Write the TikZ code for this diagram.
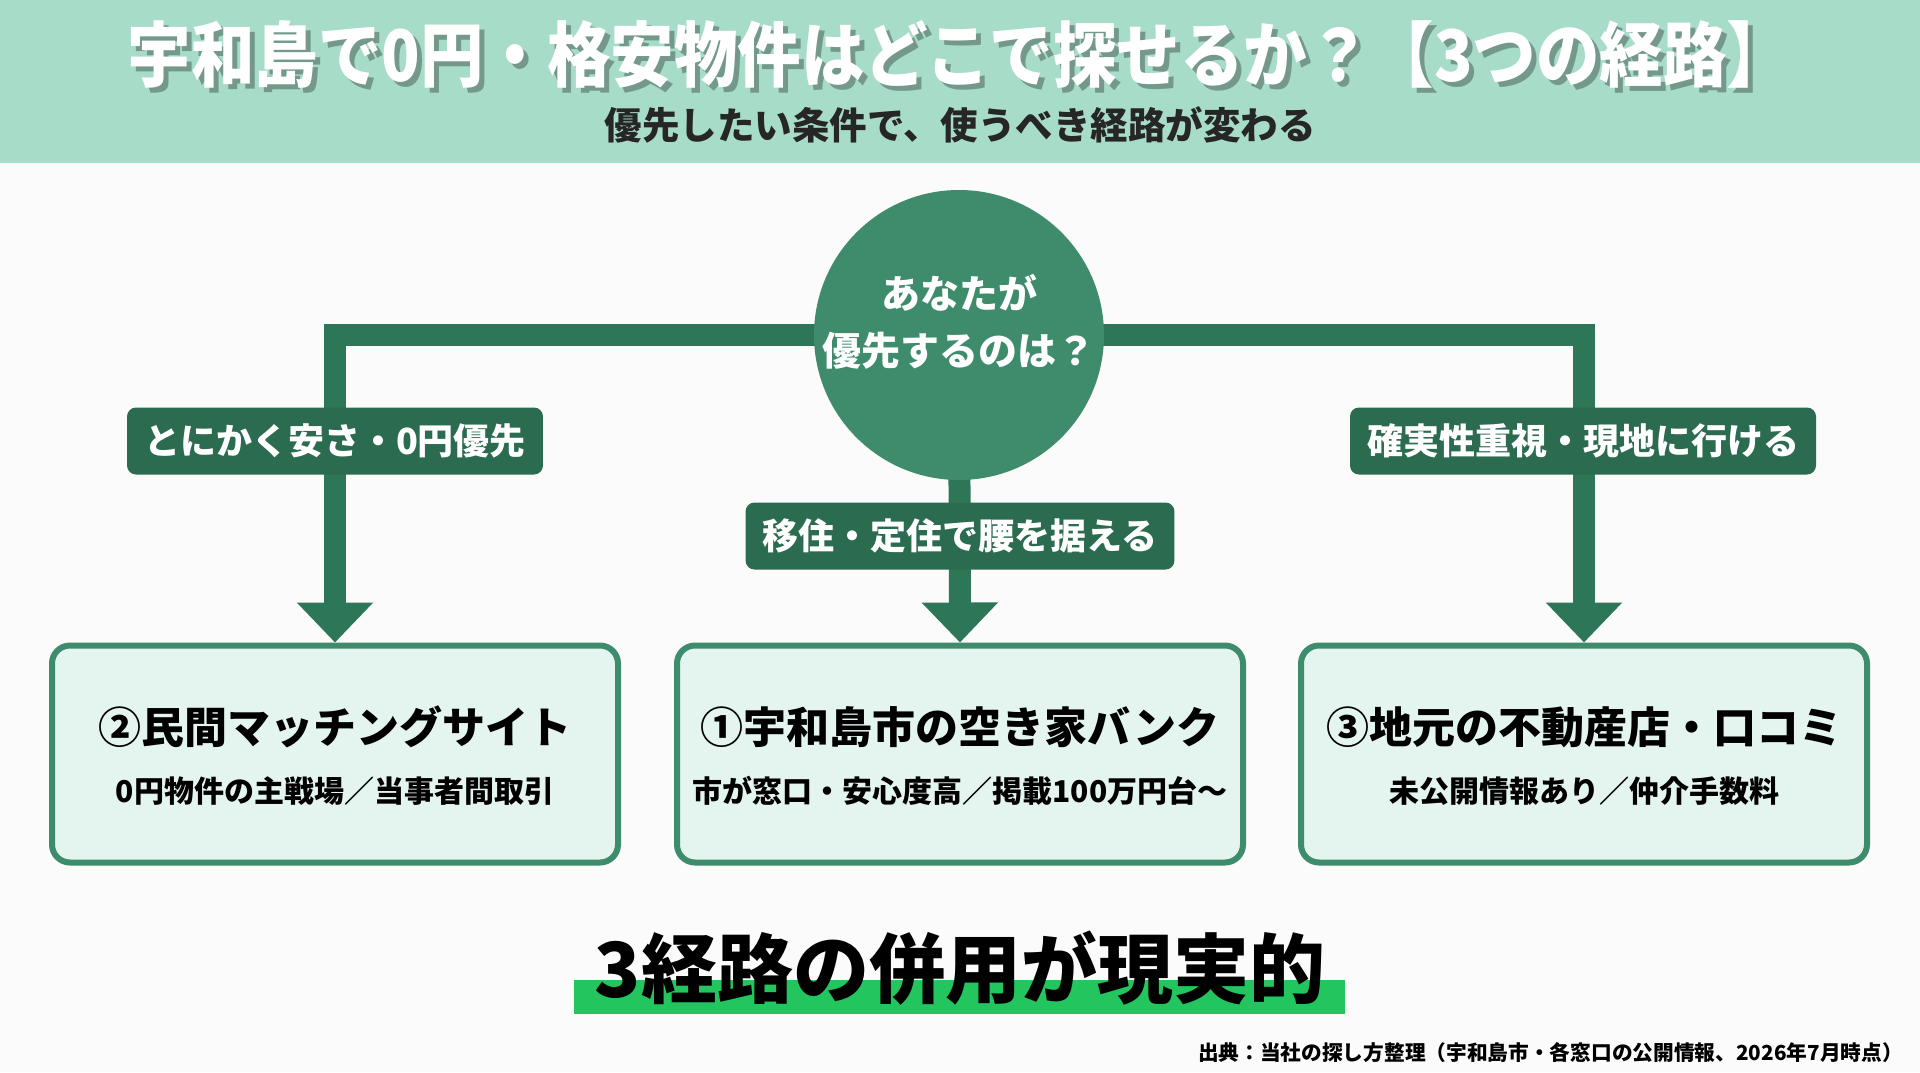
\documentclass[tikz,border=0pt]{standalone}
\usepackage{fontspec}
\usepackage{graphicx}
\setmainfont{Noto Sans CJK JP}
\usetikzlibrary{calc, positioning, arrows.meta}
\definecolor{headerbg}{HTML}{A7DCC8}
\definecolor{pagebg}{HTML}{FAFBFA}
\definecolor{askgreen}{HTML}{3F8C6C}
\definecolor{routeline}{HTML}{2D7657}
\definecolor{labelgreen}{HTML}{2B6B4F}
\definecolor{boxline}{HTML}{3E8C6B}
\definecolor{boxfill}{HTML}{E3F5EE}
\definecolor{hilite}{HTML}{22C55E}
\newcommand{\fsz}[1]{\fontsize{#1}{#1}\selectfont}
\newcommand{\titletext}{\scalebox{1}[1.12]{宇和島で0円・格安物件はどこで探せるか？【3つの経路】}}

\begin{document}
\begin{tikzpicture}[x=1pt,y=-1pt]
  \tikzset{route/.style={draw=routeline,line width=22pt,line join=miter,-{Triangle[width=74pt,length=40pt]}}}
  \tikzset{choice/.style={fill=labelgreen,rounded corners=9pt,text=white,font=\bfseries\fsz{36},minimum height=67pt,inner xsep=17pt,inner ysep=0pt}}
  \tikzset{pathbox/.style={draw=boxline,line width=6pt,fill=boxfill,rounded corners=18pt,minimum width=566pt,minimum height=217pt}}
  \tikzset{boxtitle/.style={font=\bfseries\fsz{43},inner sep=0pt}}
  \tikzset{boxsub/.style={font=\bfseries\fsz{30},inner sep=0pt}}
  \useasboundingbox (0,0) rectangle (1920,1072);
  \fill[pagebg] (0,0) rectangle (1920,1072);
  \fill[headerbg] (0,0) rectangle (1920,163);
  \node[font=\bfseries\fsz{63.5},text=black,opacity=0.3,inner sep=0] (titles) at (964,59) {\titletext};
  \node[font=\bfseries\fsz{63.5},text=white,inner sep=0] (title) at (959,54) {\titletext};
  \node[font=\bfseries\fsz{37.5},text=black!85,inner sep=0] (subtitle) at (960,125) {優先したい条件で、使うべき経路が変わる};
  \node[pathbox] (site) at (335,754) {};
  \node[pathbox] (bank) at (960,754) {};
  \node[pathbox] (local) at (1584,754) {};
  \coordinate (hub) at (959,335);
  \draw [route] (hub) -| (site.north);
  \draw [route] (hub) -- (bank.north);
  \draw [route] (hub) -| (local.north);
  \node[circle,fill=askgreen,minimum size=290pt,inner sep=0] (ask) at (hub) {};
  \node[font=\bfseries\fsz{39},text=white,align=center,inner sep=0] (askt) at ($(ask)+(0,-13)$) {あなたが\\[18pt]優先するのは？};
  \node[choice] (lcheap) at (335,441) {とにかく安さ・0円優先};
  \node[choice] (lmove) at (960,536) {移住・定住で腰を据える};
  \node[choice] (lsure) at (1583,441) {確実性重視・現地に行ける};
  \node[boxtitle] (sitet) at ($(site)+(0,-27)$) {②民間マッチングサイト};
  \node[boxsub] (sites) at ($(site)+(0,37)$) {0円物件の主戦場／当事者間取引};
  \node[boxtitle] (bankt) at ($(bank)+(0,-27)$) {①宇和島市の空き家バンク};
  \node[boxsub] (banks) at ($(bank)+(0,37)$) {市が窓口・安心度高／掲載100万円台～};
  \node[boxtitle] (localt) at ($(local)+(0,-27)$) {③地元の不動産店・口コミ};
  \node[boxsub] (locals) at ($(local)+(0,37)$) {未公開情報あり／仲介手数料};
  \fill[hilite] (574,980) rectangle (1345,1014);
  \node[font=\bfseries\fsz{76},inner sep=0] (sumup) at (960,968) {3経路の併用が現実的};
  \node[font=\bfseries\fsz{20.7},anchor=east,inner sep=0] (source) at (1903,1053) {出典：当社の探し方整理（宇和島市・各窓口の公開情報、2026年7月時点）};
\end{tikzpicture}
\end{document}
